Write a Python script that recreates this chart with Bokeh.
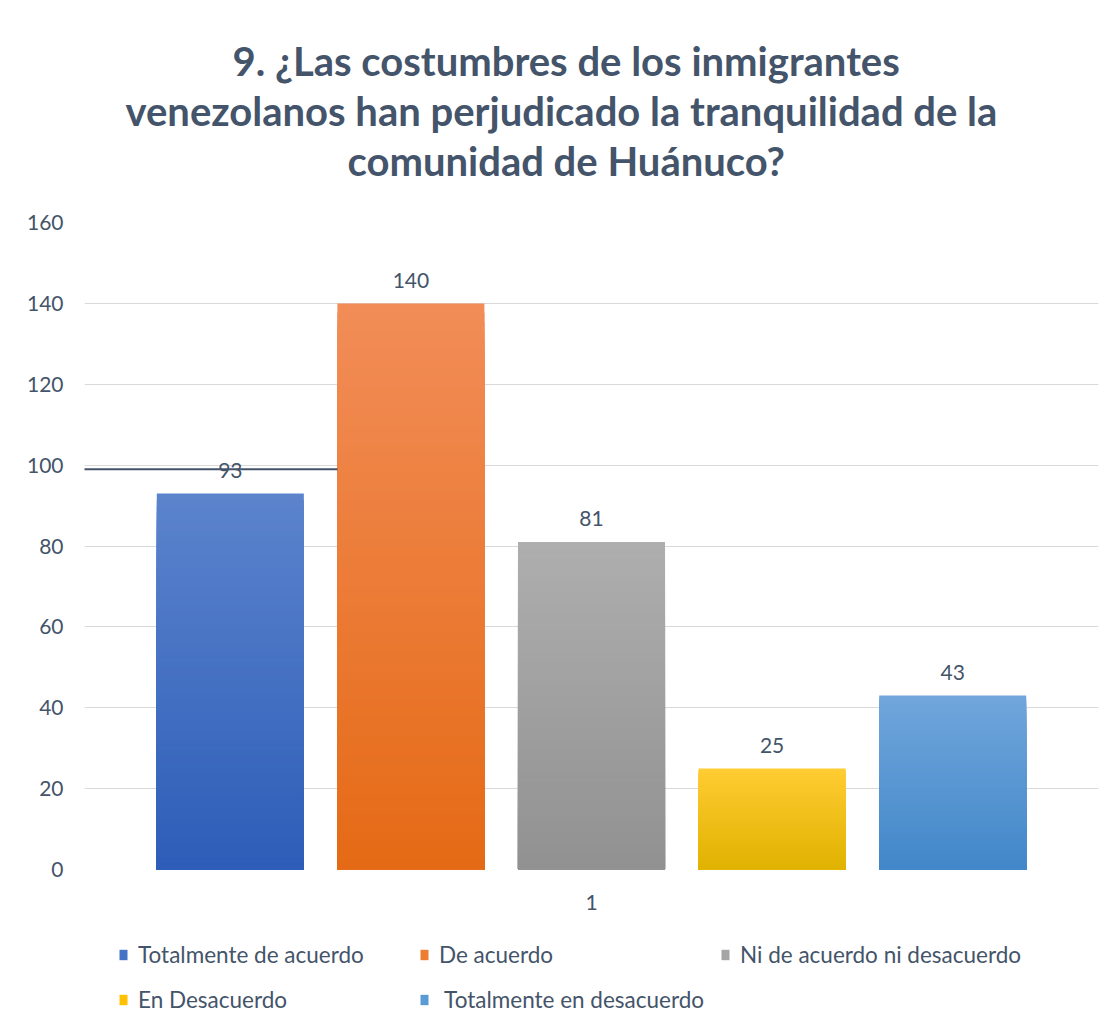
from bokeh.plotting import figure
from bokeh.layouts import column
from bokeh.models import (ColumnDataSource, Range1d, FixedTicker, Legend, LegendItem,
                          Arrow, Title)
from bokeh.core.properties import value
from bokeh.embed import file_html
from bokeh.resources import INLINE

# ---------------- data ----------------
TITLE_LINES = ["9. ¿Las costumbres de los inmigrantes",
               "venezolanos han perjudicado la tranquilidad de la",
               "comunidad de Huánuco?"]
CATEGORIES = ["Totalmente de acuerdo", "De acuerdo", "Ni de acuerdo ni desacuerdo",
              "En Desacuerdo", " Totalmente en desacuerdo"]
VALUES = [93, 140, 81, 25, 43]
X_TICK_LABELS = ["1"]
Y_TICKS = [0, 20, 40, 60, 80, 100, 120, 140, 160]

# ---------------- style ----------------
TOP_COLORS = ["#5C84CD", "#F28D58", "#AEAEAE", "#FFCC33", "#70A6DB"]
BOTTOM_COLORS = ["#2D5DB8", "#E56A15", "#919191", "#E0B200", "#4287C9"]
LEGEND_COLORS = ["#4472C4", "#ED7D31", "#A5A5A5", "#FFC000", "#5B9BD5"]
TEXT_COLOR = "#44546A"
FONT = "Lato"
TITLE_OFFSETS = [148, 41, 263]          # px from the frame's left edge, per title line
GROUP_X = 1.0
STEP = 0.1781
BAR_W = 0.145
N_STRIPS = 60
STRAY_LINE_Y = 99
STRAY_LINE_X0 = 0.4783
STRAY_LINE_X1 = 0.7495
NAN = float("nan")


def hex2rgb(h):
    h = h.lstrip("#")
    return tuple(int(h[i:i + 2], 16) for i in (0, 2, 4))


def lerp_color(c0, c1, t):
    a, b = hex2rgb(c0), hex2rgb(c1)
    return "#%02x%02x%02x" % tuple(round(a[i] + (b[i] - a[i]) * t) for i in range(3))


p = figure(frame_width=1014, frame_height=647, output_backend="svg",
           toolbar_location=None,
           x_range=Range1d(0.5, 1.5), y_range=Range1d(0, 160),
           min_border_left=84, min_border_right=2, min_border_top=222,
           min_border_bottom=0)

p.title = None
# spacer between the title block and the plot area (whitespace only)
p.add_layout(Title(text=" ", text_font=FONT, text_font_size="30px",
                   text_line_height=1.2, standoff=0), "above")
# titles stack outward from the frame: add the last line first
for line, off in reversed(list(zip(TITLE_LINES, TITLE_OFFSETS))):
    p.add_layout(Title(text=line, align="left", text_font=FONT,
                       text_font_size="40px", text_font_style="bold",
                       text_color=TEXT_COLOR, offset=off, standoff=0,
                       text_line_height=1.18), "above")

n = len(CATEGORIES)
centers = [GROUP_X + (i - (n - 1) / 2) * STEP for i in range(n)]

for i, v in enumerate(VALUES):
    # vertical gradient: overlapping bars from 0, tallest (lightest) first
    xs, tops, cols = [], [], []
    for k in range(N_STRIPS, 0, -1):
        xs.append(centers[i])
        tops.append(v * k / N_STRIPS)
        cols.append(lerp_color(BOTTOM_COLORS[i], TOP_COLORS[i], (k - 0.5) / N_STRIPS))
    src = ColumnDataSource(dict(x=xs, top=tops, color=cols))
    p.vbar(x="x", bottom=0, top="top", width=BAR_W, source=src,
           fill_color="color", line_color=None)

# data labels
lab_src = ColumnDataSource(dict(x=centers, y=VALUES, t=[str(v) for v in VALUES]))
p.text(x="x", y="y", text="t", source=lab_src, text_align="center",
       text_baseline="middle", y_offset=-23, text_font=value(FONT),
       text_font_size="21px", text_color=TEXT_COLOR)

# stray dark line in the original picture
p.add_layout(Arrow(end=None, x_start=STRAY_LINE_X0, y_start=STRAY_LINE_Y,
                   x_end=STRAY_LINE_X1, y_end=STRAY_LINE_Y,
                   line_color=TEXT_COLOR, line_width=2))

# axes
p.xaxis.ticker = FixedTicker(ticks=[GROUP_X])
p.xaxis.major_label_overrides = {GROUP_X: X_TICK_LABELS[0]}
p.yaxis.ticker = FixedTicker(ticks=Y_TICKS)
for ax in (p.xaxis, p.yaxis):
    ax.axis_line_color = None
    ax.major_tick_line_color = None
    ax.minor_tick_line_color = None
    ax.major_label_text_font = FONT
    ax.major_label_text_font_size = "21px"
    ax.major_label_text_color = TEXT_COLOR
p.yaxis.major_label_standoff = 15
p.xaxis.major_label_standoff = 19

p.xgrid.grid_line_color = None
p.ygrid.grid_line_color = "#D9D9D9"
p.ygrid.grid_line_width = 1
p.outline_line_color = None

# ---------------- legend strip below the chart ----------------
p2 = figure(frame_width=1100, frame_height=110, output_backend="svg",
            toolbar_location=None, x_range=Range1d(0, 1), y_range=Range1d(0, 1),
            min_border=0, x_axis_type=None, y_axis_type=None)
p2.grid.visible = False
p2.outline_line_color = None
items = []
for cat, col in zip(CATEGORIES, LEGEND_COLORS):
    # legend-only renderer (no visible data)
    r = p2.vbar(x=[NAN], top=[NAN], width=0.1, fill_color=col, line_color=None)
    items.append(LegendItem(label=cat, renderers=[r]))

legend = Legend(items=items, orientation="horizontal", ncols=3, location=(118, 3),
                label_text_font=FONT, label_text_font_size="22.5px",
                label_text_color=TEXT_COLOR, glyph_width=10, glyph_height=13,
                label_standoff=10, label_height=40, label_width=276, spacing=5,
                border_line_color=None, background_fill_alpha=0,
                padding=0, margin=0)
p2.add_layout(legend, "center")

open("out.html", "w").write(file_html(column(p, p2, spacing=0), INLINE))
